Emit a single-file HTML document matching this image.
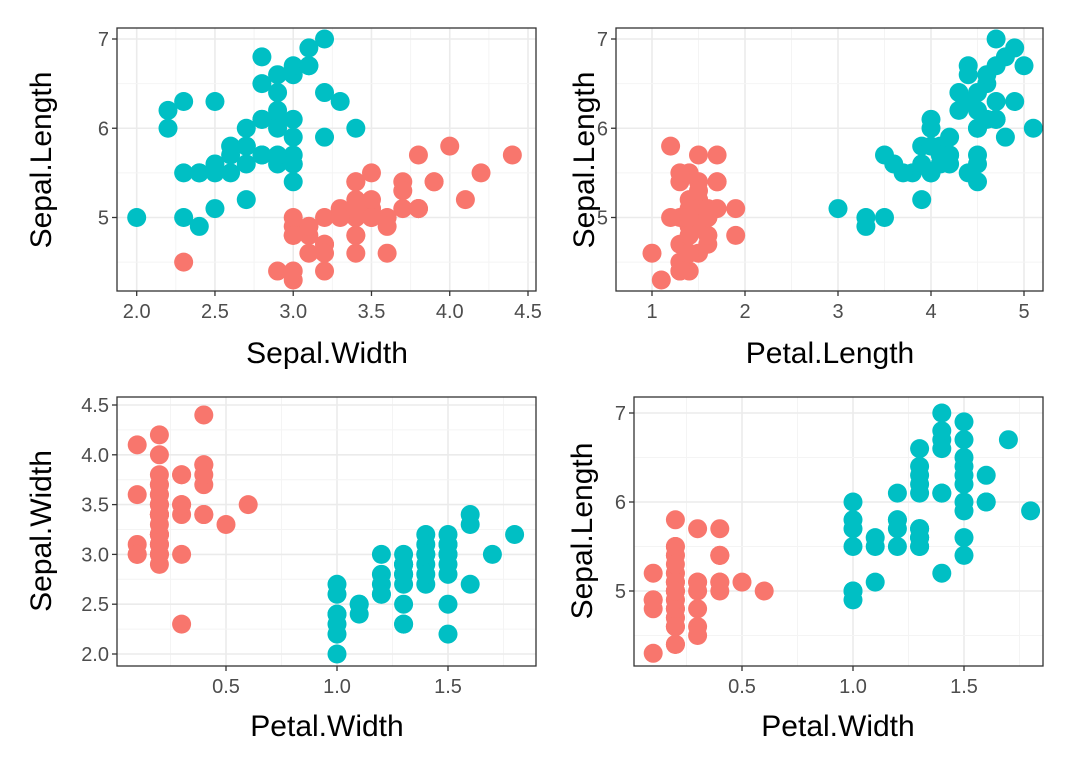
<!DOCTYPE html>
<html><head><meta charset="utf-8"><style>
body{margin:0;background:#fff;}
svg text{font-family:"Liberation Sans",sans-serif;}
</style></head><body>
<svg id="chart" width="1080" height="771" xmlns="http://www.w3.org/2000/svg"></svg>
<script>
// iris setosa / versicolor data
const setosaSepalLength=[5.1,4.9,4.7,4.6,5.0,5.4,4.6,5.0,4.4,4.9,5.4,4.8,4.8,4.3,5.8,5.7,5.4,5.1,5.7,5.1,5.4,5.1,4.6,5.1,4.8,5.0,5.0,5.2,5.2,4.7,4.8,5.4,5.2,5.5,4.9,5.0,5.5,4.9,4.4,5.1,5.0,4.5,4.4,5.0,5.1,4.8,5.1,4.6,5.3,5.0];
const setosaSepalWidth=[3.5,3.0,3.2,3.1,3.6,3.9,3.4,3.4,2.9,3.1,3.7,3.4,3.0,3.0,4.0,4.4,3.9,3.5,3.8,3.8,3.4,3.7,3.6,3.3,3.4,3.0,3.4,3.5,3.4,3.2,3.1,3.4,4.1,4.2,3.1,3.2,3.5,3.6,3.0,3.4,3.5,2.3,3.2,3.5,3.8,3.0,3.8,3.2,3.7,3.3];
const setosaPetalLength=[1.4,1.4,1.3,1.5,1.4,1.7,1.4,1.5,1.4,1.5,1.5,1.6,1.4,1.1,1.2,1.5,1.3,1.4,1.7,1.5,1.7,1.5,1.0,1.7,1.9,1.6,1.6,1.5,1.4,1.6,1.6,1.5,1.5,1.4,1.5,1.2,1.3,1.4,1.3,1.5,1.3,1.3,1.3,1.6,1.9,1.4,1.6,1.4,1.5,1.4];
const setosaPetalWidth=[0.2,0.2,0.2,0.2,0.2,0.4,0.3,0.2,0.2,0.1,0.2,0.2,0.1,0.1,0.2,0.4,0.4,0.3,0.3,0.3,0.2,0.4,0.2,0.5,0.2,0.2,0.4,0.2,0.2,0.2,0.2,0.4,0.1,0.2,0.2,0.2,0.2,0.1,0.2,0.2,0.3,0.3,0.2,0.6,0.4,0.3,0.2,0.2,0.2,0.2];
const versiSepalLength=[7.0,6.4,6.9,5.5,6.5,5.7,6.3,4.9,6.6,5.2,5.0,5.9,6.0,6.1,5.6,6.7,5.6,5.8,6.2,5.6,5.9,6.1,6.3,6.1,6.4,6.6,6.8,6.7,6.0,5.7,5.5,5.5,5.8,6.0,5.4,6.0,6.7,6.3,5.6,5.5,5.5,6.1,5.8,5.0,5.6,5.7,5.7,6.2,5.1,5.7];
const versiSepalWidth=[3.2,3.2,3.1,2.3,2.8,2.8,3.3,2.4,2.9,2.7,2.0,3.0,2.2,2.9,2.9,3.1,3.0,2.7,2.2,2.5,3.2,2.8,2.5,2.8,2.9,3.0,2.8,3.0,2.9,2.6,2.4,2.4,2.7,2.7,3.0,3.4,3.1,2.3,3.0,2.5,2.6,3.0,2.6,2.3,2.7,3.0,2.9,2.9,2.5,2.8];
const versiPetalLength=[4.7,4.5,4.9,4.0,4.6,4.5,4.7,3.3,4.6,3.9,3.5,4.2,4.0,4.7,3.6,4.4,4.5,4.1,4.5,3.9,4.8,4.0,4.9,4.7,4.3,4.4,4.8,5.0,4.5,3.5,3.8,3.7,3.9,5.1,4.5,4.5,4.7,4.4,4.1,4.0,4.4,4.6,4.0,3.3,4.2,4.2,4.2,4.3,3.0,4.1];
const versiPetalWidth=[1.4,1.5,1.5,1.3,1.5,1.3,1.6,1.0,1.3,1.4,1.0,1.5,1.0,1.4,1.3,1.4,1.5,1.0,1.5,1.1,1.8,1.3,1.5,1.2,1.3,1.4,1.4,1.7,1.5,1.0,1.1,1.0,1.2,1.6,1.5,1.6,1.5,1.3,1.3,1.3,1.2,1.4,1.2,1.0,1.3,1.2,1.3,1.3,1.1,1.3];
const ticksSepalLength=[5,6,7], labelsSepalLength=["5","6","7"];
const ticksSepalWidthX=[2.0,2.5,3.0,3.5,4.0,4.5], labelsSepalWidthX=["2.0","2.5","3.0","3.5","4.0","4.5"];
const ticksPetalLength=[1,2,3,4,5], labelsPetalLength=["1","2","3","4","5"];
const ticksPetalWidth=[0.5,1.0,1.5], labelsPetalWidth=["0.5","1.0","1.5"];
const ticksSepalWidthY=[2.0,2.5,3.0,3.5,4.0,4.5], labelsSepalWidthY=["2.0","2.5","3.0","3.5","4.0","4.5"];

const NS="http://www.w3.org/2000/svg";
const svg=document.getElementById('chart');
function mk(tag,attrs,parent){const e=document.createElementNS(NS,tag);for(const k in attrs)e.setAttribute(k,attrs[k]);(parent||svg).appendChild(e);return e;}
function lin(v0,p0,v1,p1){return v=>p0+(v-v0)*(p1-p0)/(v1-v0);}

const panels=[
 {name:'sepal-width-vs-length',box:[117,28,536,291],sx:lin(2,136.7,4.5,528),sy:lin(5,217.5,7,39),
  xs:[setosaSepalWidth,versiSepalWidth],ys:[setosaSepalLength,versiSepalLength],xt:ticksSepalWidthX,xl:labelsSepalWidthX,yt:ticksSepalLength,yl:labelsSepalLength,
  xtitle:'Sepal.Width',ytitle:'Sepal.Length',xtx:327,xty:363,ytx:51,yty:160},
 {name:'petal-length-vs-sepal-length',box:[616,28,1043,291],sx:lin(1,652,5,1024),sy:lin(5,217.5,7,39),
  xs:[setosaPetalLength,versiPetalLength],ys:[setosaSepalLength,versiSepalLength],xt:ticksPetalLength,xl:labelsPetalLength,yt:ticksSepalLength,yl:labelsSepalLength,
  xtitle:'Petal.Length',ytitle:'Sepal.Length',xtx:830,xty:363,ytx:594,yty:160},
 {name:'petal-width-vs-sepal-width',box:[117,397,536,666],sx:lin(0.5,226,1.5,448),sy:lin(2,654,4.5,405),
  xs:[setosaPetalWidth,versiPetalWidth],ys:[setosaSepalWidth,versiSepalWidth],xt:ticksPetalWidth,xl:labelsPetalWidth,yt:ticksSepalWidthY,yl:labelsSepalWidthY,
  xtitle:'Petal.Width',ytitle:'Sepal.Width',xtx:327,xty:736,ytx:51,yty:531},
 {name:'petal-width-vs-sepal-length',box:[634,397,1043,666],sx:lin(0.5,742,1.5,964),sy:lin(5,591,7,413),
  xs:[setosaPetalWidth,versiPetalWidth],ys:[setosaSepalLength,versiSepalLength],xt:ticksPetalWidth,xl:labelsPetalWidth,yt:ticksSepalLength,yl:labelsSepalLength,
  xtitle:'Petal.Width',ytitle:'Sepal.Length',xtx:838,xty:736,ytx:592,yty:531}
];
const colors=['#F8766D','#00BFC4'];
panels.forEach((p,pi)=>{
  const g=mk('g',{});
  
  
  const [L,T,R,B]=p.box;
  mk('rect',{x:L,y:T,width:R-L,height:B-T,fill:'#fff'},g);
  const xstep=p.xt[1]-p.xt[0], ystep=p.yt[1]-p.yt[0];
  for(let v=p.xt[0]-xstep*3;v<=p.xt[p.xt.length-1]+xstep*3;v+=xstep){
    [v, v+xstep/2].forEach((vv,j)=>{const x=p.sx(vv);if(x>L&&x<R)mk('line',{x1:x,x2:x,y1:T,y2:B,stroke:j?'#f4f4f4':'#ebebeb','stroke-width':j?1:1.6},g);});
  }
  for(let v=p.yt[0]-ystep*3;v<=p.yt[p.yt.length-1]+ystep*3;v+=ystep){
    [v, v+ystep/2].forEach((vv,j)=>{const y=p.sy(vv);if(y>T&&y<B)mk('line',{y1:y,y2:y,x1:L,x2:R,stroke:j?'#f4f4f4':'#ebebeb','stroke-width':j?1:1.6},g);});
  }
  for(let s=0;s<2;s++){
    p.xs[s].forEach((xv,i)=>{
      const c=mk('circle',{cx:p.sx(xv),cy:p.sy(p.ys[s][i]),r:9.5,fill:colors[s]},g);
      
      
    });
  }
  mk('rect',{x:L,y:T,width:R-L,height:B-T,fill:'none',stroke:'#333','stroke-width':1.3},g);
  p.xt.forEach((v,i)=>{const x=p.sx(v);mk('line',{x1:x,x2:x,y1:B,y2:B+5,stroke:'#333','stroke-width':1.3},g);
    const t=mk('text',{x:x,y:B+27,'text-anchor':'middle','font-size':20,fill:'#4d4d4d'},g);t.textContent=p.xl[i];
    });
  p.yt.forEach((v,i)=>{const y=p.sy(v);mk('line',{x1:L-5,x2:L,y1:y,y2:y,stroke:'#333','stroke-width':1.3},g);
    const t=mk('text',{x:L-8,y:y+7,'text-anchor':'end','font-size':20,fill:'#4d4d4d'},g);t.textContent=p.yl[i];
    });
  const xt=mk('text',{x:p.xtx,y:p.xty,'text-anchor':'middle','font-size':30,fill:'#000'},g);xt.textContent=p.xtitle;
  
  const yt=mk('text',{x:0,y:0,'text-anchor':'middle','font-size':30,fill:'#000',transform:`translate(${p.ytx},${p.yty}) rotate(-90)`},g);yt.textContent=p.ytitle;
  
});
</script>
</body></html>
